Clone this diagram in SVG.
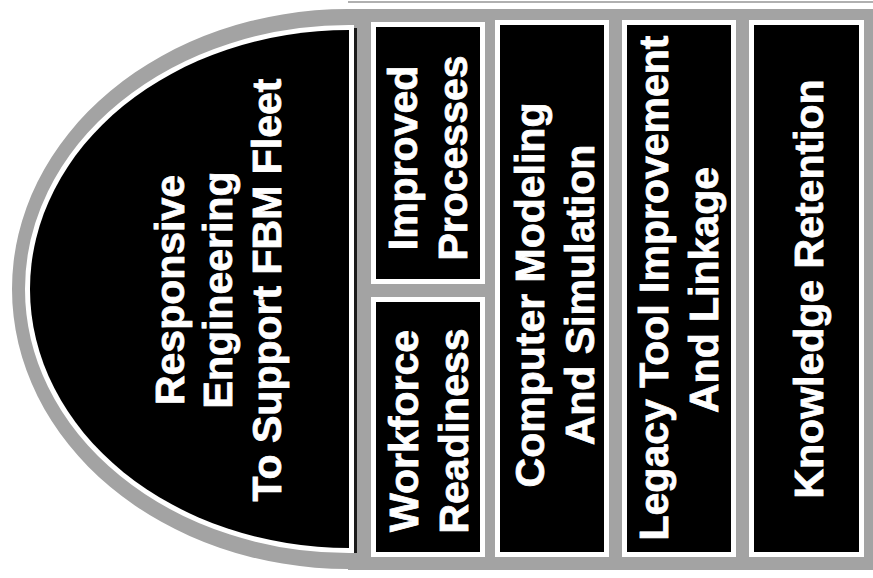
<svg xmlns="http://www.w3.org/2000/svg" width="873" height="578" viewBox="0 0 873 578">
<style>
  .gray{fill:#a3a3a3}
  .blk{fill:#000;stroke:#fff;stroke-width:10;paint-order:stroke}
  .t{fill:#fff;stroke:#fff;stroke-width:0.8;font-family:"Liberation Sans",Arial,Helvetica,sans-serif;font-weight:bold;font-size:41px;text-anchor:middle}
</style>
<rect x="0" y="0" width="873" height="578" fill="#fff"/>
<g id="frame">
  <path d="M348 2 H873" stroke="#b0b0b0" stroke-width="2" fill="none"/>
  <path class="gray" d="M348 9 H873 V570 H348 V569 A336 280 0 0 1 348 9 Z"/>
</g>
<g id="dome">
  <path class="blk" d="M349 30 A319 259 0 0 0 349 548 Z"/>
  <rect x="354" y="28" width="3" height="525" fill="#1a1a1a"/>
  <text class="t" transform="translate(184,290) rotate(-90)">Responsive</text>
  <text class="t" transform="translate(232,290) rotate(-90)">Engineering</text>
  <text class="t" transform="translate(281,290) rotate(-90)">To Support FBM Fleet</text>
</g>
<g id="improved-processes">
  <rect class="blk" x="376" y="27" width="104" height="252"/>
  <text class="t" transform="translate(417,158) rotate(-90)">Improved</text>
  <text class="t" transform="translate(467,158) rotate(-90)">Processes</text>
</g>
<g id="workforce-readiness">
  <rect class="blk" x="376" y="302" width="104" height="250"/>
  <text class="t" transform="translate(418,431) rotate(-90)">Workforce</text>
  <text class="t" transform="translate(468,431) rotate(-90)">Readiness</text>
</g>
<g id="computer-modeling">
  <rect class="blk" x="500" y="25" width="104" height="527"/>
  <text class="t" transform="translate(544,295) rotate(-90)">Computer Modeling</text>
  <text class="t" transform="translate(594,295) rotate(-90)">And Simulation</text>
</g>
<g id="legacy-tool">
  <rect class="blk" x="627" y="25" width="104" height="527"/>
  <text class="t" transform="translate(668,288) rotate(-90)">Legacy Tool Improvement</text>
  <text class="t" transform="translate(718,290) rotate(-90)">And Linkage</text>
</g>
<g id="knowledge-retention">
  <rect class="blk" x="754" y="25" width="105" height="527"/>
  <text class="t" transform="translate(823,289) rotate(-90)">Knowledge Retention</text>
</g>
<g id="connectors"/>
</svg>
